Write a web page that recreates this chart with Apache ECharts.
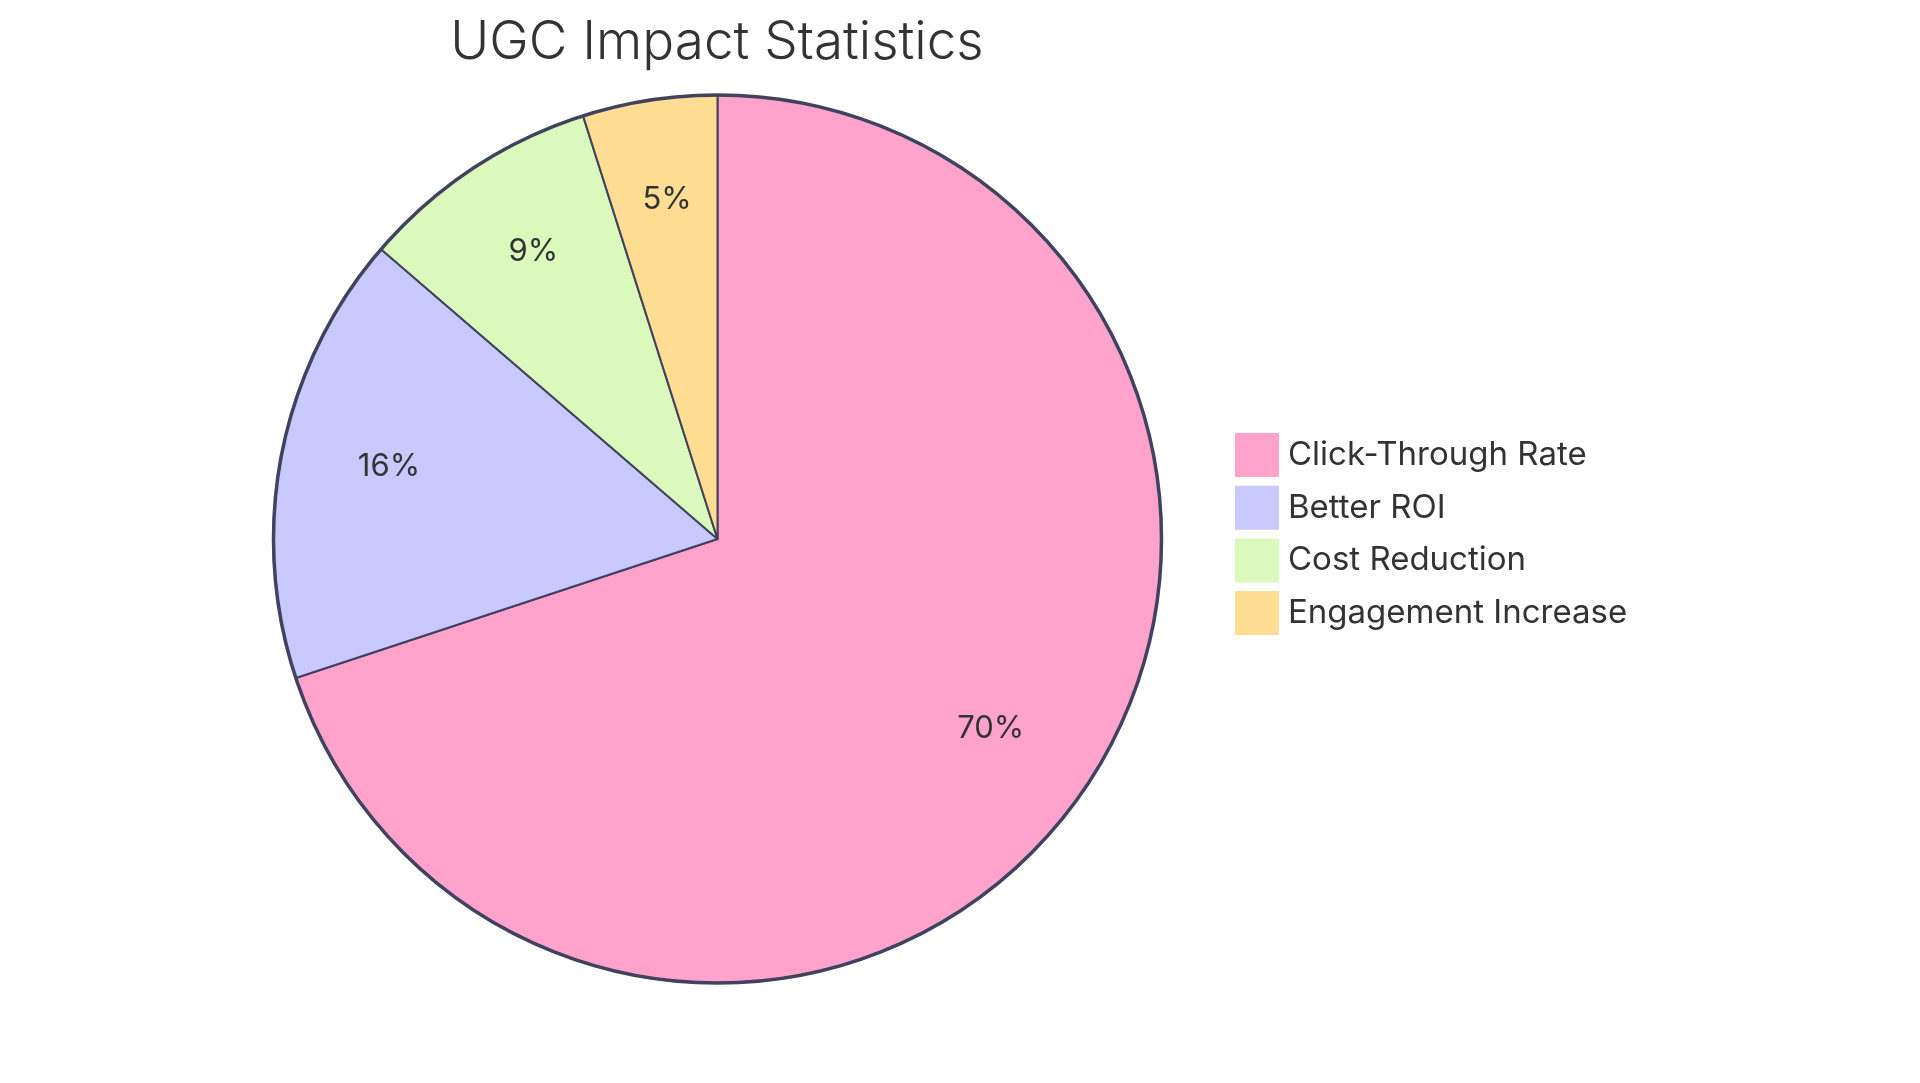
<!DOCTYPE html>
<html>
<head>
<meta charset="utf-8">
<script src="https://cdn.jsdelivr.net/npm/echarts@6/dist/echarts.min.js"></script>
<style>
html,body{margin:0;padding:0;background:#fff;}
#chart{width:1920px;height:1083px;}
</style>
</head>
<body>
<div id="chart"></div>
<script>
const titleText = 'UGC Impact Statistics';
const categories = ['Click-Through Rate', 'Better ROI', 'Cost Reduction', 'Engagement Increase'];
const values = [70, 16.4, 8.8, 4.9];
const colors = ['#FFA3CC', '#C9C9FF', '#DBF9BC', '#FFDE94'];

const FONT = 'Inter, "Noto Sans", sans-serif';
const STROKE = '#40425E';
const CENTER = [717.5, 539];
const R = 444;

const chart = echarts.init(document.getElementById('chart'));
const sliceData = categories.map((c, i) => ({ name: c, value: values[i], itemStyle: { color: colors[i] } }));
const total = values.reduce((a, b) => a + b, 0);

chart.setOption({
  animation: false,
  title: {
    text: titleText,
    left: 717, textAlign: 'center',
    top: 17,
    padding: 0,
    textStyle: { fontFamily: FONT, fontWeight: 300, fontSize: 53, color: '#333333' }
  },
  legend: {
    orient: 'vertical',
    left: 1235, top: 433,
    padding: 0,
    itemWidth: 44, itemHeight: 44, itemGap: 8.7,
    icon: 'rect',
    data: categories,
    itemStyle: { borderWidth: 0 },
    textStyle: { fontFamily: FONT, fontSize: 33, lineHeight: 36, color: '#333333', padding: [8, 0, 0, 4] },
    selectedMode: false
  },
  series: [
    {
      type: 'pie',
      center: CENTER,
      radius: [0, R],
      startAngle: 90,
      clockwise: true,
      silent: true,
      data: sliceData,
      label: { show: false },
      labelLine: { show: false },
      itemStyle: { borderColor: STROKE, borderWidth: 2 }
    },
    {
      type: 'pie',
      center: CENTER,
      radius: [0, R * 1.5],
      startAngle: 90,
      clockwise: true,
      silent: true,
      z: 5,
      data: categories.map((c, i) => ({ name: c, value: values[i] })),
      itemStyle: { color: 'rgba(0,0,0,0)', borderWidth: 0 },
      label: {
        show: true,
        position: 'inside',
        offset: [1, -7],
        formatter: p => Math.round(p.value / total * 100) + '%',
        fontFamily: FONT, fontSize: 31, color: '#333333'
      },
      labelLine: { show: false }
    },
    {
      type: 'pie',
      center: CENTER,
      radius: [R, R],
      silent: true,
      z: 4,
      data: [{ name: '', value: 1 }],
      itemStyle: { color: 'rgba(0,0,0,0)', borderColor: STROKE, borderWidth: 3.5 },
      label: { show: false },
      labelLine: { show: false }
    }
  ]
});
</script>
</body>
</html>
